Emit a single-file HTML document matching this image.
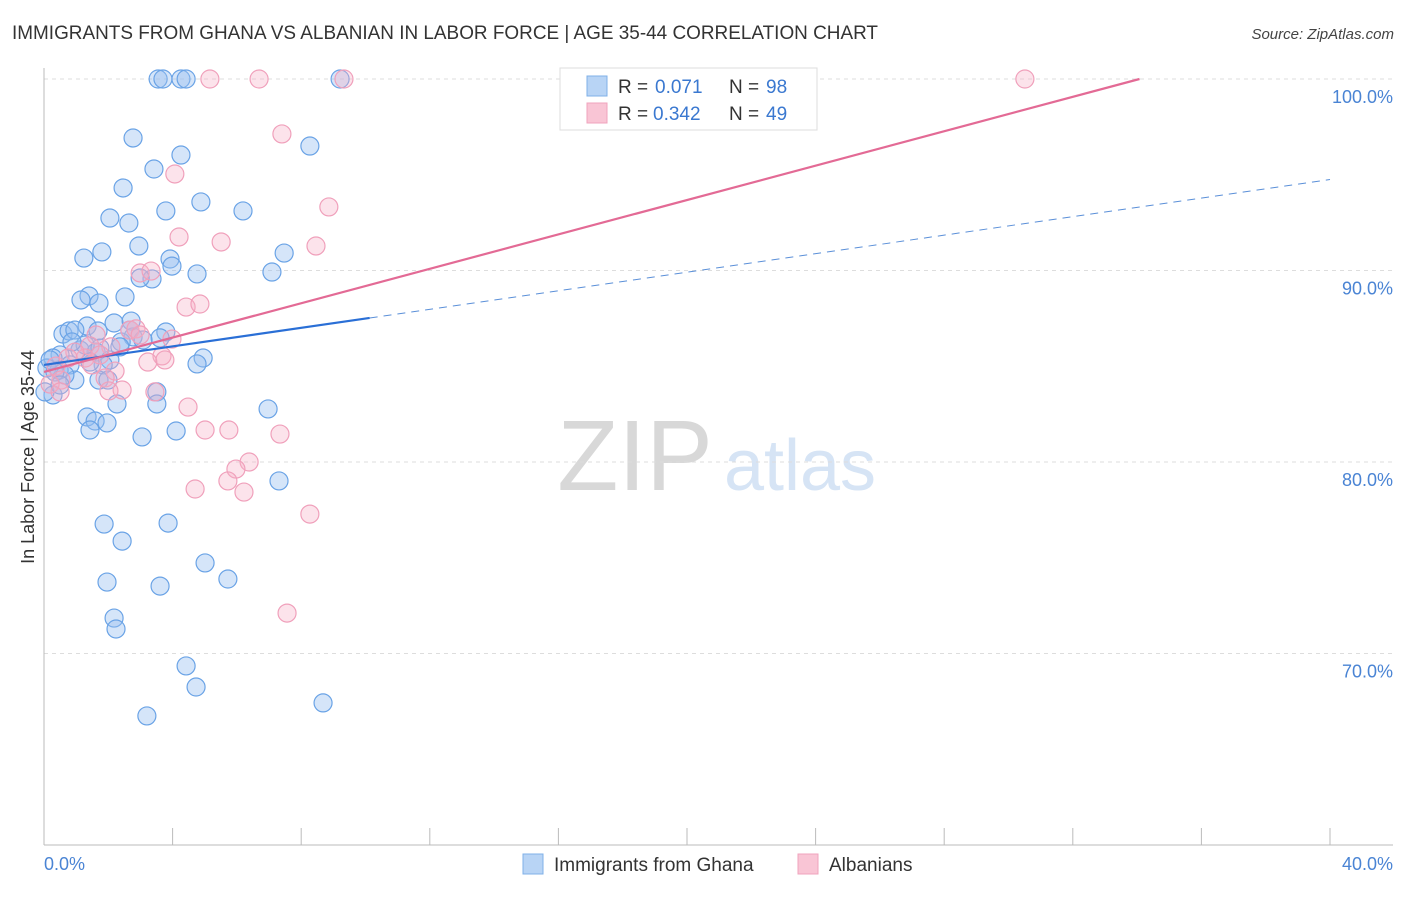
<!DOCTYPE html>
<html><head><meta charset="utf-8"><style>
body{margin:0;background:#fff;font-family:"Liberation Sans",sans-serif;}
svg text{font-family:"Liberation Sans",sans-serif;}
</style></head><body>
<svg id="chart" width="1406" height="892" viewBox="0 0 1406 892" xmlns="http://www.w3.org/2000/svg">
<text x="12" y="39" font-size="19" fill="#333" textLength="866" lengthAdjust="spacingAndGlyphs">IMMIGRANTS FROM GHANA VS ALBANIAN IN LABOR FORCE | AGE 35-44 CORRELATION CHART</text>
<text x="1394" y="39" font-size="15" fill="#444" text-anchor="end" font-style="italic">Source: ZipAtlas.com</text>
<g>
<text x="635" y="490" font-size="100" fill="#d8d8d8" text-anchor="middle" font-family="Liberation Serif">ZIP</text>
<text x="800" y="490" font-size="72" fill="#d6e4f5" text-anchor="middle">atlas</text>
</g>
<g id="grid"></g><g id="axes"></g>
<g id="pts"></g><g id="trends"></g>
<text transform="translate(34,457) rotate(-90)" font-size="18" fill="#333" text-anchor="middle">In Labor Force | Age 35-44</text>
<g>
<rect x="560" y="68" width="257" height="62" fill="#fff" stroke="#ddd"/>
<rect x="587" y="76" width="20" height="20" fill="#b8d4f5" stroke="#7fb0e8"/>
<rect x="587" y="103" width="20" height="20" fill="#f9c5d5" stroke="#f0a3bd"/>
<text x="618" y="93" font-size="19" fill="#333">R =</text>
<text x="655" y="93" font-size="19" fill="#3a78d0">0.071</text>
<text x="729" y="93" font-size="19" fill="#333">N =</text>
<text x="766" y="93" font-size="19" fill="#3a78d0">98</text>
<text x="618" y="120" font-size="19" fill="#333">R =</text>
<text x="653" y="120" font-size="19" fill="#3a78d0">0.342</text>
<text x="729" y="120" font-size="19" fill="#333">N =</text>
<text x="766" y="120" font-size="19" fill="#3a78d0">49</text>
</g>
<g>
<rect x="523" y="854" width="20" height="20" fill="#b8d4f5" stroke="#7fb0e8"/>
<text x="554" y="871" font-size="19" fill="#333">Immigrants from Ghana</text>
<rect x="798" y="854" width="20" height="20" fill="#f9c5d5" stroke="#f0a3bd"/>
<text x="829" y="871" font-size="19" fill="#333">Albanians</text>
</g>
</svg>
<script>
const yTicks=[70,80,90,100];
const yTickLabels=["70.0%","80.0%","90.0%","100.0%"];
const xTickLabels=["0.0%","40.0%"];
const ghanaX=[3.55,3.70,4.26,4.42,9.21,2.77,8.27,4.26,3.42,2.46,4.88,2.05,3.79,6.19,2.64,2.95,1.80,7.47,1.24,3.92,3.98,4.76,7.09,3.36,2.99,1.40,2.52,1.15,1.71,2.18,2.71,1.34,0.59,0.78,1.68,0.96,3.79,3.61,2.77,2.40,3.08,0.50,1.12,1.62,0.28,2.05,4.95,0.81,4.76,1.84,0.09,0.47,1.43,0.96,1.71,1.99,0.28,3.51,3.51,2.27,6.97,1.34,1.59,1.96,1.43,4.11,3.05,7.31,1.87,3.86,2.43,5.01,1.96,3.61,5.72,2.18,2.24,4.42,4.73,3.20,8.68,0.03,0.19,0.65,1.28,2.67,0.34,0.87,1.74,2.36,0.50];
const ghanaY=[100,100,100,100,100,96.92,96.50,96.03,95.30,94.31,93.58,92.74,93.11,93.11,92.48,91.28,90.97,90.91,90.65,90.60,90.23,89.82,89.92,89.56,89.61,88.67,88.62,88.46,88.30,87.26,87.36,87.10,86.68,86.84,86.84,86.89,86.79,86.48,86.53,86.27,86.37,85.59,85.85,85.74,85.43,85.33,85.43,85.07,85.12,85.07,84.91,84.80,85.22,84.28,84.28,84.28,83.50,83.66,83.03,83.03,82.77,82.35,82.14,82.04,81.67,81.62,81.31,79.01,76.76,76.81,75.87,74.73,73.73,73.52,73.89,71.85,71.28,69.35,68.25,66.74,67.42,83.66,85.33,84.54,86.11,86.89,84.70,86.27,85.95,86.01,84.02];
const albX=[5.16,6.69,9.33,30.51,7.40,4.07,8.86,4.20,5.51,8.46,2.99,3.33,4.42,4.85,2.67,2.86,1.62,3.98,1.43,2.08,3.67,3.23,3.76,1.28,0.37,2.21,1.90,0.53,2.43,2.02,3.45,4.48,5.01,5.75,7.34,0.19,6.38,5.97,5.72,4.70,6.22,8.27,7.56,0.96,0.75,1.49,2.99,0.50,1.74];
const albY=[100,100,100,100,97.13,95.04,93.32,91.75,91.49,91.28,89.87,89.97,88.09,88.25,86.89,86.95,86.63,86.42,86.06,86.01,85.54,85.22,85.33,85.43,85.01,84.75,84.39,84.28,83.76,83.71,83.66,82.87,81.67,81.67,81.46,84.07,80.00,79.63,79.01,78.59,78.43,77.28,72.11,85.74,85.43,85.07,86.63,83.66,85.59];
const ghanaTrend=[85.07,0.242];
const albTrend=[84.70,0.449];
const NS="http://www.w3.org/2000/svg";
const sx=v=>44+v*32.15, sy=v=>79+(100-v)*19.15;
function mk(t,a,p){const e=document.createElementNS(NS,t);for(const k in a)e.setAttribute(k,a[k]);document.getElementById(p).appendChild(e);return e;}
yTicks.forEach((t,i)=>{
 const g=mk('line',{x1:44,x2:1393,y1:sy(t),y2:sy(t),stroke:'#ddd','stroke-dasharray':'4,4'},'grid');
 
 
 const l=mk('text',{x:1393,y:sy(t)+24,'font-size':18,fill:'#4a84d4','text-anchor':'end'},'grid');l.textContent=yTickLabels[i];
 
 
});
mk('line',{x1:44,x2:44,y1:68,y2:845,stroke:'#bbb'},'axes');
mk('line',{x1:44,x2:1393,y1:845,y2:845,stroke:'#bbb'},'axes');
for(let v=0;v<=40;v+=4){const t=mk('line',{x1:sx(v),x2:sx(v),y1:828,y2:845,stroke:'#bbb'},'axes');
 
 }
[[0,'start'],[40,'end']].forEach((d,i)=>{const l=mk('text',{x:sx(d[0])+(i?63:0),y:870,'font-size':18,fill:'#4a84d4','text-anchor':d[1]},'axes');l.textContent=xTickLabels[i];
 
 });
ghanaX.forEach((x,i)=>{const c=mk('circle',{cx:sx(x),cy:sy(ghanaY[i]),r:9,fill:'rgba(150,190,240,0.4)',stroke:'#6aa3e6','stroke-width':1.2},'pts');
 
 });
albX.forEach((x,i)=>{const c=mk('circle',{cx:sx(x),cy:sy(albY[i]),r:9,fill:'rgba(246,175,198,0.35)',stroke:'#f0a0bb','stroke-width':1.2},'pts');
 
 });
const bf=v=>ghanaTrend[0]+ghanaTrend[1]*v, pf=v=>albTrend[0]+albTrend[1]*v;
let l=mk('line',{x1:sx(0),y1:sy(bf(0)),x2:sx(10.13),y2:sy(bf(10.13)),stroke:'#2a6fd6','stroke-width':2.2},'trends');


l=mk('line',{x1:sx(10.13),y1:sy(bf(10.13)),x2:sx(40),y2:sy(bf(40)),stroke:'#5a8fd8','stroke-width':1,'stroke-dasharray':'8,6'},'trends');


const pe=Math.min(40,(100-albTrend[0])/albTrend[1]);
l=mk('line',{x1:sx(0),y1:sy(pf(0)),x2:sx(pe),y2:sy(pf(pe)),stroke:'#e36a95','stroke-width':2.2},'trends');


</script>
</body></html>
